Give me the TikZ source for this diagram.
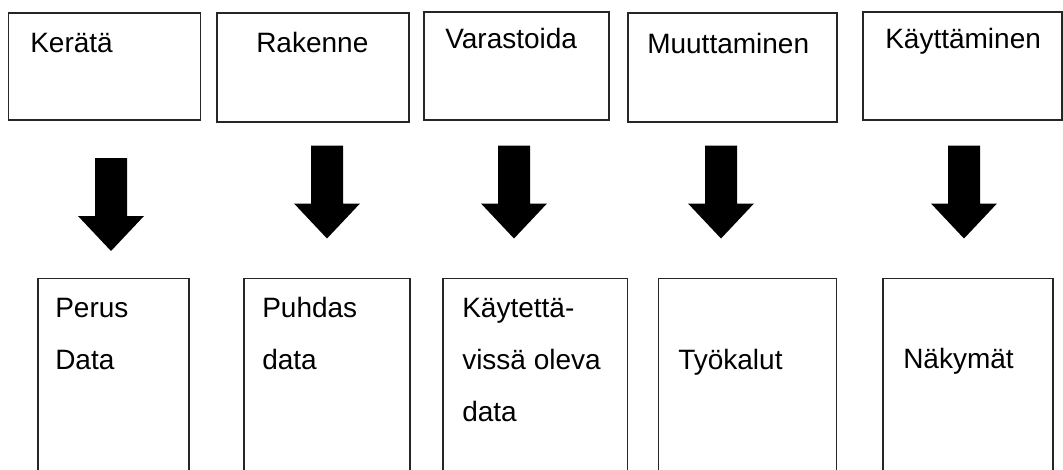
\documentclass[tikz,border=0pt]{standalone}
\usepackage{fontspec}
\setmainfont{Liberation Sans}
\tikzset{
  box/.style={draw=black!85, line width=0.9pt},
  txt/.style={anchor=base west, inner sep=0pt, align=left,
    font=\fontsize{21}{39}\selectfont},
  blockarrow/.style={fill=black}
}
% down arrow: tail centre at #1
\newcommand\downblock[1]{%
  \fill[blockarrow] (#1) ++(-16,0) -- ++(32,0) -- ++(0,58) -- ++(17,0)
    -- ++(-33,35) -- ++(-33,-35) -- ++(17,0) -- cycle;}

\begin{document}
\begin{tikzpicture}[x=0.75pt, y=-0.75pt]
    \useasboundingbox (0,0) rectangle (1063,469);
    \clip (0,0) rectangle (1063,469);

    % top row
    \draw[box] (8.5,13) rectangle (200.5,120);
    \draw[box] (217,13) rectangle (409,122);
    \draw[box] (424,12) rectangle (609,120);
    \draw[box] (628,13) rectangle (837,122);
    \draw[box] (863,12) rectangle (1062,120);

    \node[txt] (keraa)   at (30,52)  {Kerätä};
    \node[txt] (rakenne) at (256,52) {Rakenne};
    \node[txt] (varasto) at (445,48) {Varastoida};
    \node[txt] (muutto)  at (647,53) {Muuttaminen};
    \node[txt] (kaytto)  at (885,48) {Käyttäminen};

    % arrows
    \coordinate (a1) at (111,158);
    \coordinate (a2) at (327,145.5);
    \coordinate (a3) at (514,145.5);
    \coordinate (a4) at (721,145.5);
    \coordinate (a5) at (964,145.5);
    \downblock{a1}
    \downblock{a2}
    \downblock{a3}
    \downblock{a4}
    \downblock{a5}

    % bottom row (base = last line)
    \draw[box] (38,278.5) rectangle (189,480);
    \draw[box] (244,278.5) rectangle (410,480);
    \draw[box] (443,278.5) rectangle (627.5,480);
    \draw[box] (658.5,278.5) rectangle (836.5,480);
    \draw[box] (883,278.5) rectangle (1053,480);

    \node[txt] (perus)   at (55,369)  {Perus\\Data};
    \node[txt] (puhdas)  at (262,369) {Puhdas\\data};
    \node[txt] (kaytett) at (462,421) {Käytettä-\\vissä oleva\\data};
    \node[txt] (tyokalu) at (678,369) {Työkalut};
    \node[txt] (nakymat) at (903,368) {Näkymät};

\end{tikzpicture}
\end{document}
